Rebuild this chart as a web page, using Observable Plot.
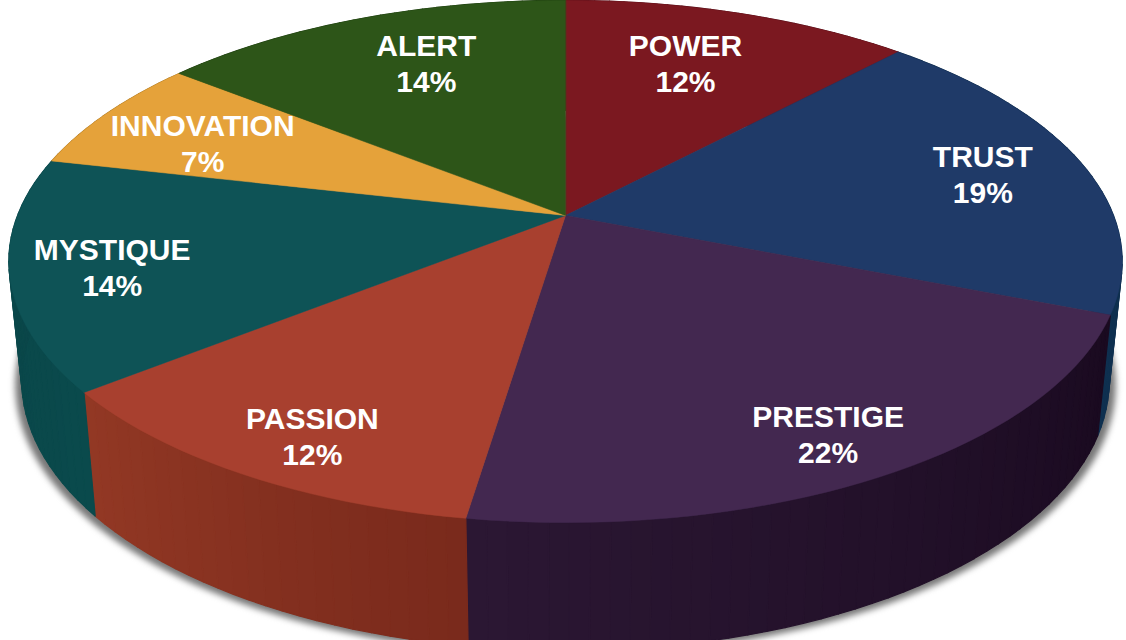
<!DOCTYPE html>
<html>
<head>
<meta charset="utf-8">
<style>html,body{margin:0;padding:0;background:#fff;overflow:hidden}svg{display:block}</style>
<script src="https://cdn.jsdelivr.net/npm/d3@7"></script>
<script src="https://cdn.jsdelivr.net/npm/@observablehq/plot@0.6"></script>
</head>
<body>
<div id="chart"></div>
<script>
// Slice names, the rounded labels as printed, and the shares
const names = ["POWER", "TRUST", "PRESTIGE", "PASSION", "MYSTIQUE", "INNOVATION", "ALERT"];
const printed = ["12%", "19%", "22%", "12%", "14%", "7%", "14%"];
const shares = [12, 19, 21.4, 11.9, 14.3, 7.1, 14.3];
const topColors = ["#7b1820", "#1f3a68", "#432850", "#a8402f", "#0e5356", "#e5a23a", "#2d5518"];
const wallFrom = ["#55101a", "#0a2845", "#1a0a20", "#7a2a1c", "#0a4a4c", "#a87520", "#1e3c10"];
const wallTo = ["#55101a", "#0f3050", "#2b1733", "#923824", "#0a4548", "#a87520", "#1e3c10"];
const labelAt = [5.6, 21.75, 41.97, 57.7, 71.05, 81.4, 93.6];   // percent round the pie
const labelReach = [0.71, 0.80, 0.86, 0.86, 0.823, 0.757, 0.725]; // fraction of radius

// Tilted disc: perspective of a unit circle, seen from the front
const tilt = 0.176;
function project(pct, r = 1) {
  const a = pct / 100 * 2 * Math.PI;
  const u = r * Math.sin(a), v = -r * Math.cos(a);
  const w = 1 - tilt * v;
  return [u / w, v / w];
}
// The matching point on the underside of the pie
function sink([X, Y]) {
  return [X * 0.9767, 0.6522 + 1.0345 * (Y - 0.1818)];
}

let start = 0;
const bounds = shares.map(s => { const b = [start, start + s]; start += s; return b; });

const topPts = [], wallPts = [], underPts = [];
bounds.forEach(([a, b], i) => {
  const n = Math.ceil((b - a) * 2);
  topPts.push({id: i, x: 0, y: 0, color: topColors[i]});
  for (let k = 0; k <= n; k++) {
    const [x, y] = project(a + (b - a) * k / n);
    topPts.push({id: i, x, y, color: topColors[i]});
  }
  const mix = d3.interpolateRgb(wallFrom[i], wallTo[i]);
  for (let k = 0; k < n; k++) {
    const id = i + "-" + k, color = mix(k / Math.max(1, n - 1));
    const p0 = project(a + (b - a) * k / n), p1 = project(a + (b - a) * (k + 1) / n);
    [p0, p1, sink(p1), sink(p0)].forEach(([x, y]) => wallPts.push({id, x, y, color}));
  }
});
for (let k = 0; k < 200; k++) {
  const [x, y] = sink(project(k / 2));
  underPts.push({x: x * 1.012, y: y + 0.018});
}
const labels = names.map((name, i) => {
  const [x, y] = project(labelAt[i], labelReach[i]);
  return {x, y, text: name + "\n" + printed[i]};
});

const blur = (index, scales, values, dims, ctx, next) => {
  const g = next(index, scales, values, dims, ctx);
  g.style.filter = "blur(3px)";
  return g;
};

const plot = Plot.plot({
  width: 1126, height: 640,
  margin: 0,
  x: {domain: [-1, 1], range: [565 - 548, 565 + 548], axis: null},
  y: {domain: [-1, 1], range: [215 - 253, 215 + 253], axis: null},
  color: {type: "identity"},
  marks: [
    Plot.line(underPts, {x: "x", y: "y", curve: "linear-closed", fill: "#777", stroke: "none", render: blur}),
    Plot.line(wallPts, {x: "x", y: "y", z: "id", curve: "linear-closed", fill: "color", stroke: "color", strokeWidth: 1.2}),
    Plot.line(topPts, {x: "x", y: "y", z: "id", curve: "linear-closed", fill: "color", stroke: "color", strokeWidth: 0.5}),
    Plot.text(labels, {x: "x", y: "y", dy: -2, text: "text", fill: "white", fontSize: 30, fontWeight: "bold",
      fontFamily: "Liberation Sans, Arial, sans-serif", lineHeight: 1.2, textAnchor: "middle"})
  ]
});
document.getElementById("chart").append(plot);
</script>
</body>
</html>
